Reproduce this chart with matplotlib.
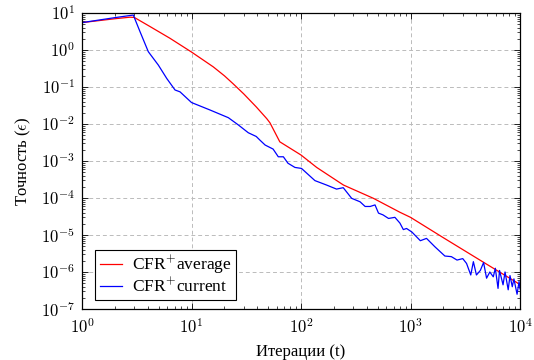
import math
import matplotlib
matplotlib.use('Agg')
from matplotlib import pyplot as plt
from matplotlib.ticker import LogLocator, FuncFormatter, NullFormatter

plt.rcParams['font.family'] = ['Liberation Serif', 'DejaVu Serif']
plt.rcParams['mathtext.fontset'] = 'cm'

# CFR+ average
avg_t = [1, 2, 2.74, 3, 4.18, 6.36, 10, 15.8, 20, 24, 30, 39, 48.6, 52, 58, 64,
         100, 139, 244, 458, 802, 1000, 2000, 5000, 10000]
avg_y = [5.5, 7.0, 7.7, 7.6, 4.3, 2.07, 0.88, 0.35, 0.2, 0.122, 0.065, 0.029, 0.014,
         0.0108, 0.0058, 0.0033, 1.45e-3, 6.7e-4, 2.24e-4, 9.8e-5, 4.1e-5, 3.0e-5,
         8.4e-6, 1.6e-6, 4.6e-7]

# CFR+ current
cur_t = [1, 2, 2.94, 3.39, 4.03, 4.98, 5.94, 7.07, 7.85, 10, 14.7, 21.7, 26.8, 33,
         39, 42, 47, 55.6, 62, 69, 76, 88, 101, 134, 171, 211, 243, 290, 346, 385,
         428, 474, 510, 560, 630, 720, 800, 860, 920, 1030, 1230, 1400, 1670, 2060,
         2360, 2660, 3000, 3250, 3550, 3750, 4000, 4340, 4650, 4950, 5300, 5700,
         5950, 6300, 6500, 7000, 7300, 7800, 8100, 8500, 8800, 9400, 9800, 10000]
cur_y = [5.5, 7.5, 8.8, 3.1, 0.9, 0.39, 0.17, 0.083, 0.074, 0.038, 0.024, 0.0148,
         0.0094, 0.0058, 0.0046, 0.0037, 0.0027, 0.0021, 0.0013, 0.0013, 8.7e-4,
         6.7e-4, 6.3e-4, 2.95e-4, 2.24e-4, 1.74e-4, 1.9e-4, 9.8e-5, 7.9e-5, 5.9e-5,
         5.9e-5, 6.5e-5, 3.9e-5, 3.5e-5, 2.8e-5, 3.0e-5, 2.1e-5, 1.4e-5, 1.5e-5,
         1.2e-5, 7.0e-6, 8.1e-6, 4.8e-6, 2.7e-6, 2.6e-6, 2.1e-6, 2.3e-6, 1.7e-6,
         8.3e-7, 1.9e-6, 8.3e-7, 1.1e-6, 1.8e-6, 6.8e-7, 1.0e-6, 7.4e-7, 1.26e-6,
         3.6e-7, 1.1e-6, 4.5e-7, 1.0e-6, 3.3e-7, 8.0e-7, 4.0e-7, 6.5e-7, 2.5e-7,
         5.5e-7, 3.5e-7]

fig = plt.figure(figsize=(5.34, 3.6), dpi=100)
ax = fig.add_axes([0.1536, 0.1417, 0.8202, 0.8222])

ax.plot(avg_t, avg_y, color='red', lw=0.9, label=r'CFR$^{+}$average')
ax.plot(cur_t, cur_y, color='blue', lw=0.9, label=r'CFR$^{+}$current')

ax.set_xscale('log')
ax.set_yscale('log')
ax.set_xlim(1, 1e4)
ax.set_ylim(1e-7, 1e1)

fmt = FuncFormatter(lambda v, p: r'$10^{%d}$' % round(math.log10(v)))
ax.xaxis.set_major_locator(LogLocator(base=10, numticks=10))
ax.yaxis.set_major_locator(LogLocator(base=10, numticks=20))
ax.xaxis.set_minor_locator(LogLocator(base=10, subs=range(2, 10), numticks=20))
ax.yaxis.set_minor_locator(LogLocator(base=10, subs=range(2, 10), numticks=20))
ax.xaxis.set_major_formatter(fmt)
ax.yaxis.set_major_formatter(fmt)
ax.xaxis.set_minor_formatter(NullFormatter())
ax.yaxis.set_minor_formatter(NullFormatter())

ax.tick_params(which='both', direction='in', top=True, right=True, labelsize=12)
ax.tick_params(which='major', length=4, width=0.6)
ax.tick_params(which='minor', length=2.5, width=0.5)
ax.tick_params(axis='x', which='major', pad=7)
ax.tick_params(axis='y', which='major', pad=5)
ax.grid(True, which='major', color='#bbbbbb', linestyle=(0, (4, 3)), lw=0.7)
for s in ax.spines.values():
    s.set_linewidth(0.9)

ax.set_xlabel('Итерации (t)', fontsize=12, labelpad=5)
ax.set_ylabel(r'Точность ($\epsilon$)', fontsize=12, labelpad=6)

leg = ax.legend(loc='lower left', fontsize=12.5, fancybox=False, edgecolor='black',
                framealpha=1, bbox_to_anchor=(0.03, 0.03), borderaxespad=0,
                handlelength=1.3, handletextpad=0.6,
                borderpad=0.25, labelspacing=0.05)
leg.get_frame().set_linewidth(0.8)

fig.savefig('out.png', dpi=100)
